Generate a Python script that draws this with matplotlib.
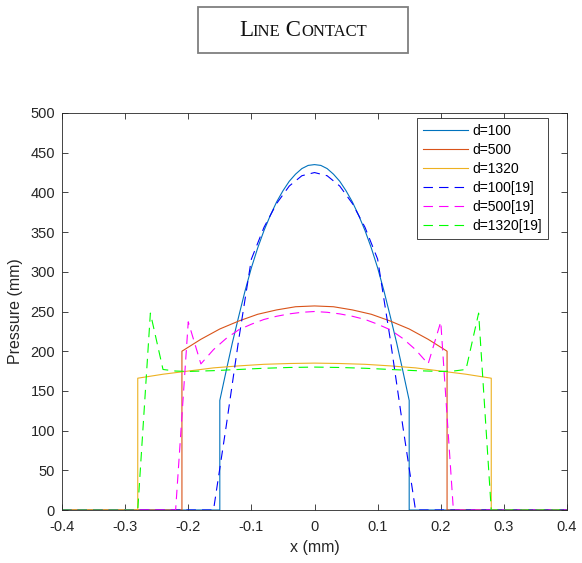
import matplotlib
matplotlib.use("Agg")
import matplotlib.pyplot as plt
from matplotlib.offsetbox import TextArea, HPacker, AnchoredOffsetbox
from matplotlib.patches import Rectangle

plt.rcParams['font.family'] = ['Liberation Sans', 'DejaVu Sans']
plt.rcParams['axes.unicode_minus'] = False

# ---- data ----
x_d100 = [-0.4, -0.15, -0.15, -0.14, -0.13, -0.12, -0.11, -0.10, -0.09, -0.08, -0.07, -0.06, -0.05,
          -0.04, -0.03, -0.02, -0.01, 0.0, 0.01, 0.02, 0.03, 0.04, 0.05, 0.06, 0.07, 0.08, 0.09,
          0.10, 0.11, 0.12, 0.13, 0.14, 0.15, 0.15, 0.4]
p_d100 = [0, 0, 138, 175, 211, 244, 276, 305, 330, 352, 371, 388, 402,
          414, 423, 430, 434, 435, 434, 430, 423, 414, 402, 388, 371, 352, 330,
          305, 276, 244, 211, 175, 138, 0, 0]

x_d500 = [-0.4, -0.21, -0.21, -0.18, -0.15, -0.12, -0.09, -0.06, -0.03, 0.0,
          0.03, 0.06, 0.09, 0.12, 0.15, 0.18, 0.21, 0.21, 0.4]
p_d500 = [0, 0, 200, 215, 228, 238, 246.5, 252, 256, 257,
          256, 252, 246.5, 238, 228, 215, 200, 0, 0]

x_d1320 = [-0.4, -0.28, -0.28, -0.24, -0.20, -0.16, -0.12, -0.08, -0.04, 0.0,
           0.04, 0.08, 0.12, 0.16, 0.20, 0.24, 0.28, 0.28, 0.4]
p_d1320 = [0, 0, 166, 171, 175, 179, 181.5, 183.5, 184.5, 185,
           184.5, 183.5, 181.5, 179, 175, 171, 166, 0, 0]

x_r100 = [-0.4, -0.16, -0.14, -0.12, -0.10, -0.08, -0.06, -0.04, -0.02, 0.0,
          0.02, 0.04, 0.06, 0.08, 0.10, 0.12, 0.14, 0.16, 0.4]
p_r100 = [0, 0, 105, 215, 316, 356, 386, 408, 421, 425,
          421, 408, 386, 356, 316, 215, 105, 0, 0]

x_r500 = [-0.4, -0.22, -0.20, -0.18, -0.16, -0.14, -0.12, -0.10, -0.08, -0.06, -0.04, -0.02, 0.0,
          0.02, 0.04, 0.06, 0.08, 0.10, 0.12, 0.14, 0.16, 0.18, 0.20, 0.22, 0.4]
p_r500 = [0, 0, 237, 184, 202, 216, 227, 234, 240, 244, 247, 249, 250,
          249, 247, 244, 240, 234, 227, 216, 202, 184, 237, 0, 0]

x_r1320 = [-0.4, -0.28, -0.26, -0.24, -0.22, -0.20, -0.16, -0.12, -0.08, -0.04, 0.0,
           0.04, 0.08, 0.12, 0.16, 0.20, 0.22, 0.24, 0.26, 0.28, 0.4]
p_r1320 = [0, 0, 248, 177, 175, 174.5, 175.5, 177, 178.5, 179.5, 180,
           179.5, 178.5, 177, 175.5, 174.5, 175, 177, 248, 0, 0]

labels = ['d=100', 'd=500', 'd=1320', 'd=100[19]', 'd=500[19]', 'd=1320[19]']
x_ticks = [-0.4, -0.3, -0.2, -0.1, 0, 0.1, 0.2, 0.3, 0.4]
x_ticklabels = ['-0.4', '-0.3', '-0.2', '-0.1', '0', '0.1', '0.2', '0.3', '0.4']
y_ticks = [0, 50, 100, 150, 200, 250, 300, 350, 400, 450, 500]

# ---- figure ----
W, H = 582, 563
fig = plt.figure(figsize=(W / 100, H / 100), dpi=100)
ax = fig.add_axes([62 / W, 1 - 510 / H, 505 / W, 397 / H])

lw = 0.8
dash = (0, (8.5, 5.5))
ax.plot(x_d100, p_d100, color='#0072BD', lw=lw, label=labels[0])
ax.plot(x_d500, p_d500, color='#D95319', lw=lw, label=labels[1])
ax.plot(x_d1320, p_d1320, color='#EDB120', lw=lw, label=labels[2])
ax.plot(x_r100, p_r100, color='#0000FF', lw=lw, ls=dash, label=labels[3])
ax.plot(x_r500, p_r500, color='#FF00FF', lw=lw, ls=dash, label=labels[4])
ax.plot(x_r1320, p_r1320, color='#00FF00', lw=lw, ls=dash, label=labels[5])

ax.set_xlim(-0.4, 0.4)
ax.set_ylim(0, 500)
ax.set_xticks(x_ticks)
ax.set_xticklabels(x_ticklabels)
ax.set_yticks(y_ticks)
tc = '#262626'
ax.tick_params(direction='in', length=4, width=0.6, top=True, right=True,
               labelsize=10.5, colors=tc)
ax.tick_params(axis='x', pad=7.5)
ax.tick_params(axis='y', pad=5)
for s in ax.spines.values():
    s.set_linewidth(0.6)
    s.set_color(tc)
ax.set_xlabel('x (mm)', fontsize=11.5, color=tc, labelpad=4)
ax.set_ylabel('Pressure (mm)', fontsize=11.5, color=tc, labelpad=5)

leg = ax.legend(loc='upper right', bbox_to_anchor=((548 - 62) / 505, (510 - 118) / 397),
                borderaxespad=0, fontsize=10, handlelength=3.25, handletextpad=0.35,
                labelspacing=0.36, fancybox=False, framealpha=1, borderpad=0.42)
leg.get_frame().set_edgecolor('#262626')
leg.get_frame().set_linewidth(0.6)

# ---- boxed small-caps title ----
fig.patches.append(Rectangle((198 / W, 1 - 53 / H), 210 / W, 46 / H,
                             transform=fig.transFigure, fill=False,
                             edgecolor='#7f7f7f', lw=1.3))
big = dict(fontsize=16.5, family='Liberation Serif', color='#111111')
small = dict(fontsize=12, family='Liberation Serif', color='#111111')
parts = [TextArea('L', textprops=big), TextArea('INE', textprops=small),
         TextArea(' C', textprops=big), TextArea('ONTACT', textprops=small)]
pack = HPacker(children=parts, align='baseline', pad=0, sep=0)
title_box = AnchoredOffsetbox(loc='center', child=pack, frameon=False, pad=0,
                              bbox_to_anchor=(303 / W, 1 - 31 / H),
                              bbox_transform=fig.transFigure, borderpad=0)
fig.add_artist(title_box)

fig.savefig('out.png', dpi=100)
